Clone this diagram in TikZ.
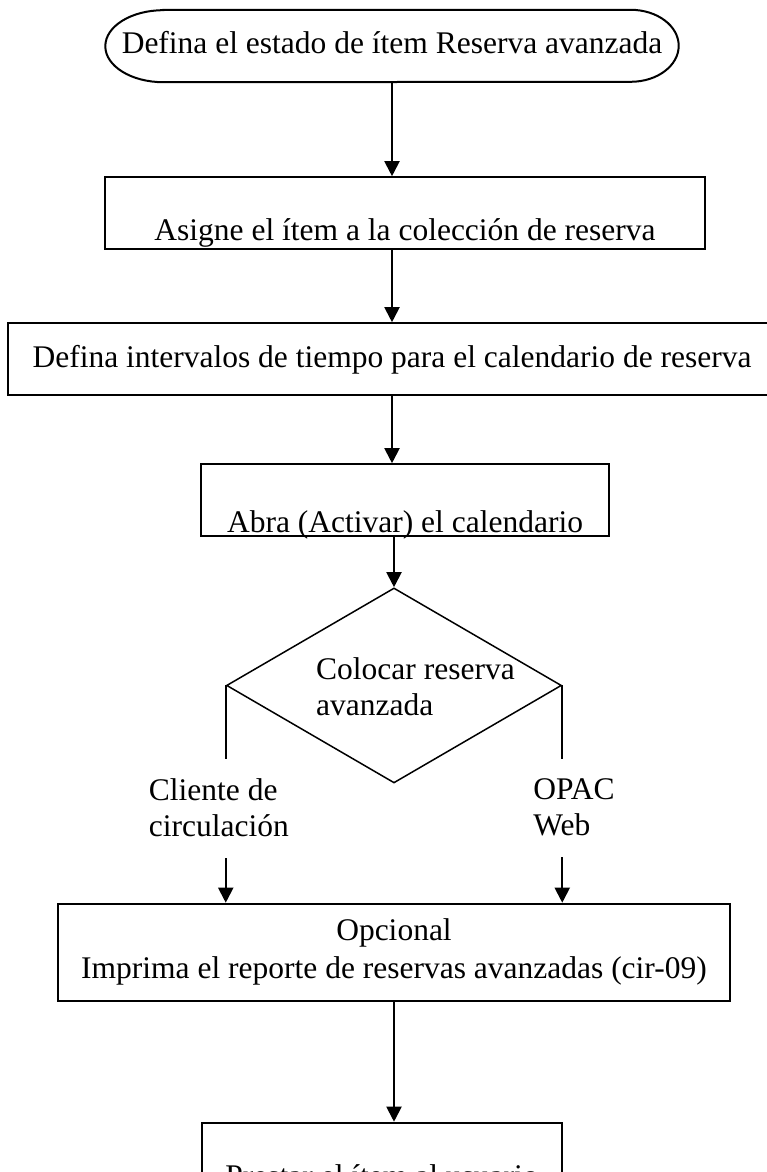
\documentclass[tikz,border=0pt]{standalone}
\usepackage{fontspec}
\setmainfont{Liberation Serif}
\usetikzlibrary{arrows.meta, positioning, shapes.geometric}

\begin{document}
\begin{tikzpicture}[
  x=1pt, y=1pt,
  txt/.style={font=\fontsize{31.5pt}{36pt}\selectfont, inner sep=0pt},
  box/.style={txt, draw, line width=2pt, minimum width=#1},
  box/.default=600pt,
  startbox/.style={txt, minimum width=573pt, text height=43pt, text depth=29pt},
  decision/.style={diamond, draw, line width=1.5pt, inner sep=0pt,
    minimum width=335pt, minimum height=195pt},
  lbl/.style={txt, align=left},
  border/.style={line width=2pt},
  branch/.style={line width=2pt},
  arr/.style={-{Triangle[length=15pt,width=15pt]}, line width=2pt},
]

\useasboundingbox (0,0) rectangle (766,-1172);

% Start
\node[startbox] (start) at (392,-46) {Defina el estado de ítem Reserva avanzada};
\draw[border] ([xshift=58pt]start.north west) -- ([xshift=-48pt]start.north east)
  arc[start angle=90, end angle=-90, x radius=48pt, y radius=36pt]
  -- ([xshift=58pt]start.south west)
  arc[start angle=270, end angle=90, x radius=58pt, y radius=36pt] -- cycle;

% Steps
\node[box=600pt, text height=63pt, text depth=9pt, below=94pt of start, xshift=13pt] (asigne)
  {Asigne el ítem a la colección de reserva};
\node[box=768pt, text height=44pt, text depth=28pt, below=72pt of asigne, xshift=-13pt] (intervalos)
  {Defina intervalos de tiempo para el calendario de reserva};
\node[box=408pt, text height=68pt, text depth=4pt, below=67pt of intervalos, xshift=13pt] (abra)
  {Abra (Activar) el calendario};

% Decision
\node[decision, below=50pt of abra, xshift=-11pt] (colocar) {};
\node[lbl, anchor=north west] (colocartxt) at ([xshift=-78pt,yshift=28pt]colocar.center)
  {Colocar reserva\\avanzada};

% Branches
\coordinate[below=74pt of colocar.west] (izq);
\coordinate[below=74pt of colocar.east] (der);
\node[lbl, below=19pt of izq, anchor=north west, xshift=-77pt] (cliente) {Cliente de\\circulación};
\node[lbl, below=19pt of der, anchor=north west, xshift=-29pt] (opac) {OPAC\\Web};

% Report and loan
\node[box=672pt, align=center, minimum height=97pt, below=119pt of colocar] (opcional)
  {Opcional\\[2pt]Imprima el reporte de reservas avanzadas (cir-09)};
\node[box=360pt, text height=64pt, text depth=8pt, below=120pt of opcional, xshift=-12pt] (prestar)
  {Prestar el ítem al usuario};

% Arrows
\draw[arr] (start) -- (start |- asigne.north);
\draw[arr] (asigne.south -| start) -- (start |- intervalos.north);
\draw[arr] (intervalos.south -| start) -- (start |- abra.north);
\draw[arr] (abra.south -| colocar.north) -- (colocar.north);
\draw[branch] (colocar.west) -- (izq);
\draw[branch] (colocar.east) -- (der);
\draw[arr] ([yshift=-21pt]cliente.south -| izq) -- (izq |- opcional.north);
\draw[arr] ([yshift=-21pt]opac.south -| der) -- (der |- opcional.north);
\draw[arr] (opcional.south -| colocar.north) -- (colocar.north |- prestar.north);

\end{tikzpicture}
\end{document}
